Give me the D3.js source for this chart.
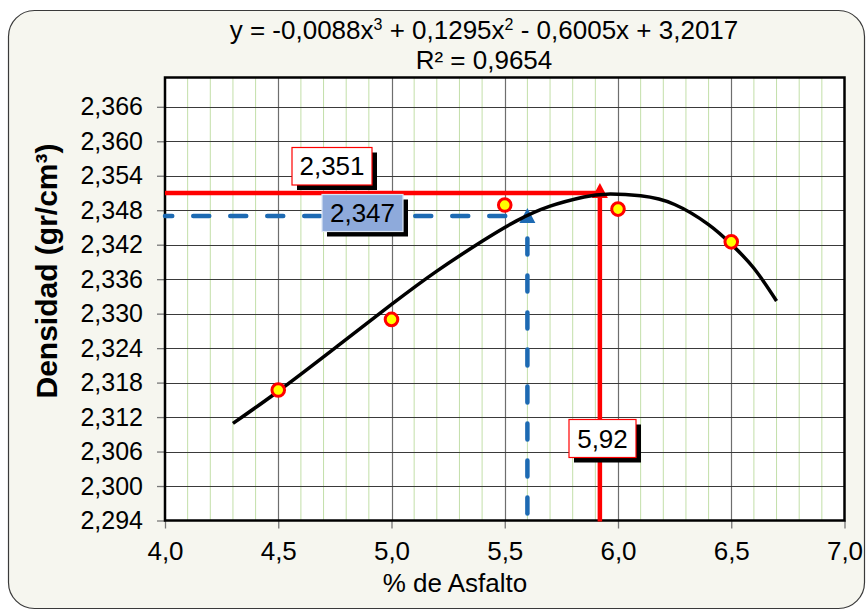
<!DOCTYPE html>
<html><head><meta charset="utf-8">
<script src="https://cdn.jsdelivr.net/npm/d3@7"></script>
<style>body{margin:0;background:#fff}svg{display:block}text{font-family:"Liberation Sans",Arial,sans-serif}</style>
</head><body><svg id="c" width="866" height="610"></svg>
<script>
// ---- data ----
const pointX = [4.5, 5.0, 5.5, 6.0, 6.5];
const pointY = [2.3167, 2.3290, 2.3489, 2.3482, 2.3425];
const curveX = [4.3, 4.5, 4.75, 5.0, 5.2, 5.4, 5.55, 5.7, 5.85, 5.95, 6.1, 6.25, 6.4, 6.5, 6.6, 6.7];
const curveY = [2.3109, 2.3165, 2.3240, 2.3316, 2.3374, 2.3426, 2.3461, 2.3487, 2.3503, 2.3508, 2.3505, 2.3490, 2.3455, 2.3421, 2.3379, 2.3322];
const xTicks = [4.0, 4.5, 5.0, 5.5, 6.0, 6.5, 7.0];
const yTicks = [2.294, 2.300, 2.306, 2.312, 2.318, 2.324, 2.330, 2.336, 2.342, 2.348, 2.354, 2.360, 2.366];
const optX = [5.92];   // red reference (max density)
const optY = [2.351];
const desX = [5.6];    // blue reference
const desY = [2.347];
const labelTexts = ["2,351", "2,347", "5,92"];
const eqLine1 = ["y = -0,0088x", "3", " + 0,1295x", "2", " - 0,6005x + 3,2017"];
const eqLine2 = "R² = 0,9654";
const xTitle = "% de Asfalto";
const yTitle = "Densidad (gr/cm³)";

const fmt = v => d3.format(".3f")(v).replace(".", ",");
const fmtX = v => d3.format(".1f")(v).replace(".", ",");
const FS = "26px";

const svg = d3.select("#c");
const L = 165, R = 844.5, T = 77.5, B = 520.5;
const x = d3.scaleLinear().domain([4.0, 7.0]).range([L, R]);
const y = d3.scaleLinear().domain([2.294, 2.3711]).range([B, T]);

// background
svg.append("rect").attr("x", 8.5).attr("y", 10.5).attr("width", 856).attr("height", 598)
  .attr("rx", 26).attr("fill", "#f6f6ef").attr("stroke", "#3a3a3a").attr("stroke-width", 1.2);
svg.append("rect").attr("x", L).attr("y", T).attr("width", R - L).attr("height", B - T).attr("fill", "#fff");

// minor vertical grid
const minor = d3.range(41, 70).map(d => d / 10).filter(d => Math.abs(d * 2 - Math.round(d * 2)) > 1e-6);
svg.append("g").selectAll("line").data(minor).join("line")
  .attr("x1", d => x(d)).attr("x2", d => x(d)).attr("y1", T).attr("y2", B)
  .attr("stroke", "#c3dfa9").attr("stroke-width", 1);
// major vertical grid
svg.append("g").selectAll("line").data(xTicks.slice(1, -1)).join("line")
  .attr("x1", d => Math.round(x(d)) + 0.5).attr("x2", d => Math.round(x(d)) + 0.5).attr("y1", T).attr("y2", B)
  .attr("stroke", "#6e6e6e").attr("stroke-width", 1.2);
// horizontal grid
svg.append("g").selectAll("line").data(yTicks.slice(1)).join("line")
  .attr("x1", L).attr("x2", R).attr("y1", d => Math.round(y(d)) + 0.5).attr("y2", d => Math.round(y(d)) + 0.5)
  .attr("stroke", "#3a3a3a").attr("stroke-width", 1.2);

// axes
const yAxis = d3.axisLeft(y).tickValues(yTicks).tickFormat(fmt).tickSize(8).tickPadding(14);
const gy = svg.append("g").attr("transform", `translate(${L},0)`).call(yAxis);
const xAxis = d3.axisBottom(x).tickValues(xTicks).tickFormat(fmtX).tickSize(8).tickPadding(13);
const gx = svg.append("g").attr("transform", `translate(0,${B})`).call(xAxis);
[gx, gy].forEach(g => {
  g.select(".domain").remove();
  g.selectAll(".tick line").attr("stroke", "#777").attr("stroke-width", 1.3);
  g.selectAll(".tick text").attr("fill", "#000").style("font-family", '"Liberation Sans",Arial,sans-serif');
});
gx.selectAll(".tick text").style("font-size", FS);
gy.selectAll(".tick text").style("font-size", "25px");
// plot border
svg.append("rect").attr("x", L).attr("y", T).attr("width", R - L).attr("height", B - T)
  .attr("fill", "none").attr("stroke", "#000").attr("stroke-width", 2.5);

// blue dashed reference
const blue = "#1d6ab3";
svg.append("path").attr("d", `M${x(4.0)},${y(desY[0])}H${x(desX[0])}`)
  .attr("stroke", blue).attr("stroke-width", 4.5).attr("stroke-dasharray", "16 21").attr("stroke-dashoffset", 8.75)
  .attr("stroke-linecap", "round").attr("fill", "none");
svg.append("path").attr("d", `M${x(desX[0])},${B}V${y(desY[0]) + 12}`)
  .attr("stroke", blue).attr("stroke-width", 4.5).attr("stroke-dasharray", "16 21").attr("stroke-dashoffset", 30)
  .attr("stroke-linecap", "round").attr("fill", "none");
svg.append("path").attr("d", `M${x(desX[0])},${y(desY[0]) - 8}l-8,15h16z`).attr("fill", blue);

// red reference
const red = "#ff0000";
svg.append("path").attr("d", `M${x(4.0)},${y(optY[0])}H${x(optX[0])}`).attr("stroke", red).attr("stroke-width", 4.5).attr("fill", "none");
svg.append("path").attr("d", `M${x(optX[0])},${B + 1}V${y(optY[0]) + 4}`).attr("stroke", red).attr("stroke-width", 4.5).attr("fill", "none");
svg.append("path").attr("d", `M${x(optX[0])},${y(optY[0]) - 10}l-8,15h16z`).attr("fill", red);

// fitted curve
const line = d3.line().x(d => x(d[0])).y(d => y(d[1])).curve(d3.curveNatural);
svg.append("path").datum(d3.zip(curveX, curveY)).attr("d", line)
  .attr("fill", "none").attr("stroke", "#000").attr("stroke-width", 3.5);

// points
svg.append("g").selectAll("circle").data(d3.zip(pointX, pointY)).join("circle")
  .attr("cx", d => x(d[0])).attr("cy", d => y(d[1])).attr("r", 6.3)
  .attr("fill", "#ffff00").attr("stroke", red).attr("stroke-width", 3);

// label boxes
const boxes = [
  {t: labelTexts[0], x: 292, y: 147.5, w: 80, h: 37.5, fill: "#fff", stroke: red},
  {t: labelTexts[1], x: 322, y: 194.5, w: 81, h: 37, fill: "#8eaadb", stroke: "#dde6f3"},
  {t: labelTexts[2], x: 569, y: 419.5, w: 67, h: 38, fill: "#fff", stroke: red}
];
boxes.forEach(b => {
  svg.append("rect").attr("x", b.x + 5).attr("y", b.y + 5).attr("width", b.w).attr("height", b.h).attr("fill", "#000");
  svg.append("rect").attr("x", b.x).attr("y", b.y).attr("width", b.w).attr("height", b.h)
    .attr("fill", b.fill).attr("stroke", b.stroke).attr("stroke-width", 1.2);
  svg.append("text").attr("x", b.x + b.w / 2).attr("y", b.y + b.h / 2 + 9).attr("text-anchor", "middle")
    .style("font-size", FS).attr("fill", "#000").text(b.t);
});

// equation
const eq = svg.append("text").attr("x", 484).attr("y", 39).attr("text-anchor", "middle").style("font-size", FS);
eqLine1.forEach((s, i) => {
  const ts = eq.append("tspan").text(s);
  if (i % 2 === 1) ts.style("font-size", "16px").attr("dy", -9);
  else if (i > 0) ts.attr("dy", 9);
});
svg.append("text").attr("x", 484).attr("y", 69).attr("text-anchor", "middle").style("font-size", FS).text(eqLine2);

// axis titles
svg.append("text").attr("x", 455).attr("y", 592).attr("text-anchor", "middle").style("font-size", FS).text(xTitle);
svg.append("text").attr("transform", "translate(57,271) rotate(-90)").attr("text-anchor", "middle")
  .style("font-size", "30px").style("font-weight", "bold").text(yTitle);
</script></body></html>
